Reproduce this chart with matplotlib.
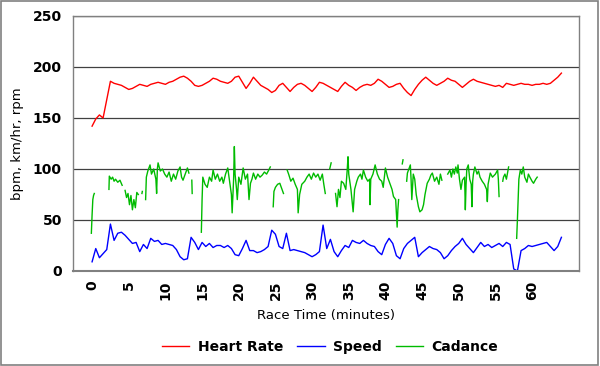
import numpy as np
import matplotlib
matplotlib.use('Agg')
import matplotlib.pyplot as plt
from matplotlib.patches import Rectangle

# Heart rate, one reading every half minute from 0 to 64
heart_rate = [
    142, 149, 153, 150, 168, 186, 184, 183, 182, 180,
    178, 179, 181, 183, 182, 181, 183, 184, 185, 184,
    183, 185, 186, 188, 190, 191, 189, 186, 182, 181,
    182, 184, 186, 189, 188, 186, 185, 184, 186, 190,
    191, 185, 179, 184, 190, 186, 182, 180, 178, 175,
    177, 182, 184, 180, 176, 180, 183, 184, 182, 179,
    176, 180, 185, 184, 182, 180, 178, 176, 181, 185,
    182, 180, 177, 180, 182, 183, 182, 184, 188, 186,
    183, 180, 181, 183, 184, 179, 175, 172, 178, 183,
    187, 190, 187, 184, 182, 184, 186, 189, 187, 186,
    183, 180, 183, 186, 188, 186, 185, 184, 183, 182,
    181, 182, 180, 184, 183, 182, 183, 184, 183, 183,
    182, 183, 183, 184, 183, 184, 187, 190, 194,
]

# Speed, one reading every half minute from 0 to 64
speed = [
    9, 22, 13, 17, 21, 46, 30, 37, 38, 35,
    31, 27, 28, 19, 26, 22, 32, 29, 30, 26,
    27, 26, 25, 21, 14, 11, 12, 33, 28, 21,
    28, 24, 27, 23, 25, 25, 23, 25, 22, 16,
    15, 22, 30, 20, 20, 18, 19, 21, 24, 40,
    36, 24, 22, 37, 20, 21, 20, 19, 18, 16,
    14, 16, 19, 45, 22, 31, 19, 14, 20, 25,
    23, 30, 28, 27, 30, 27, 25, 24, 19, 16,
    26, 32, 27, 15, 12, 22, 27, 30, 33, 14,
    18, 21, 24, 22, 21, 18, 12, 15, 20, 24,
    27, 32, 26, 22, 18, 23, 28, 24, 26, 23,
    25, 27, 24, 28, 26, 2, 0, 20, 22, 25,
    24, 25, 26, 27, 28, 24, 20, 24, 33,
]

nan = float('nan')

cad_time = [
    -0.1, 0.0, 0.1, 0.2, 0.3, 0.6,
    2.3, 2.35, 2.6, 2.8, 3.0, 3.2, 3.5, 3.8, 4.1, 4.3,
    4.5, 4.7, 4.9, 5.1, 5.3, 5.5, 5.7, 5.9, 6.1, 6.3, 6.5,
    6.8, 6.85, 7.0,
    7.3, 7.4, 7.6, 7.9, 8.1, 8.4, 8.7, 8.8, 8.9, 9.0, 9.3, 9.6, 9.9, 10.2,
    10.5, 10.8, 11.1, 11.4, 11.7, 12.0, 12.2, 12.4, 12.7, 13.0, 13.2, 13.4,
    13.6, 13.65, 13.8,
    14.9, 15.0, 15.1, 15.4, 15.7, 16.0, 16.3, 16.5, 16.8, 17.1, 17.4, 17.7,
    17.9, 18.2, 18.5, 18.8, 19.0, 19.1, 19.3, 19.4, 19.5, 19.7, 19.8, 20.0,
    20.3, 20.6, 20.9, 21.2, 21.4, 21.6, 21.8, 22.0, 22.3, 22.6, 22.9, 23.2,
    23.5, 23.8, 24.1, 24.3, 24.5,
    24.7, 24.8, 25.0, 25.3, 25.6, 25.9, 26.1, 26.3,
    26.6, 26.8, 27.1, 27.4, 27.7, 28.0, 28.1, 28.3, 28.6, 29.0, 29.3, 29.6,
    29.9, 30.2, 30.5, 30.8, 31.1, 31.4, 31.6, 31.8, 32.0,
    32.4, 32.6, 32.8,
    33.2, 33.4, 33.6, 33.8, 34.0, 34.3, 34.6, 34.8, 34.9, 35.0, 35.3, 35.6,
    35.8, 36.1, 36.3, 36.6, 36.8, 37.0, 37.3, 37.6, 37.85, 37.9, 38.0, 38.3,
    38.6, 38.9, 39.2, 39.5, 39.7, 40.0, 40.3, 40.6, 40.9, 41.1, 41.4, 41.6,
    41.7, 41.8, 42.0,
    42.3, 42.4, 42.6,
    42.9, 43.0, 43.2, 43.4, 43.5, 43.6, 43.8, 44.0, 44.2, 44.5, 44.7, 45.0,
    45.2, 45.4, 45.7, 46.0, 46.2, 46.4, 46.7, 47.0, 47.3, 47.5, 47.7, 48.0,
    48.5, 48.8, 49.0, 49.2, 49.4, 49.6, 49.8, 49.9, 50.1, 50.3, 50.5, 50.8,
    50.9, 51.0, 51.1, 51.3, 51.5, 51.7, 51.8, 51.9, 52.0, 52.2, 52.5, 52.7,
    52.9, 53.2, 53.5, 53.8, 53.9, 54.0, 54.3, 54.6, 55.0, 55.3, 55.4, 55.5,
    55.6,
    56.0, 56.1, 56.3, 56.5, 56.8, 57.0,
    57.9, 58.0, 58.2, 58.4, 58.6, 58.8, 59.0, 59.3, 59.5, 59.7, 60.0, 60.2,
    60.5, 60.7,
]
cadence = [
    37, 55, 70, 74, 76, nan,
    80, 93, 90, 92, 88, 90, 87, 89, 84, nan,
    79, 72, 76, 65, 74, 60, 70, 62, 77, 75, nan,
    76, 78, nan,
    70, 92, 98, 104, 95, 100, 90, 76, 100, 106, 98, 100, 95, 92,
    97, 88, 95, 90, 98, 102, 92, 89, 95, 101, 96, nan,
    89, 76, nan,
    38, 70, 92, 85, 82, 92, 88, 99, 90, 95, 88, 92,
    86, 95, 101, 85, 75, 57, 90, 122, 95, 80, 70, 92,
    85, 101, 90, 95, 70, 86, 90, 96, 90, 95, 92, 94,
    97, 95, 99, 102, nan,
    63, 78, 82, 85, 86, 80, 76, nan,
    99, 95, 88, 91, 85, 80, 57, 75, 85, 88, 92, 95,
    90, 96, 92, 95, 89, 95, 85, 76, nan,
    100, 106, nan,
    76, 63, 80, 72, 88, 86, 80, 100, 112, 95, 80, 58,
    80, 88, 92, 95, 90, 99, 92, 88, 90, 65, 90, 95,
    104, 95, 90, 88, 82, 101, 92, 86, 80, 73, 70, 43,
    60, 70, nan,
    105, 109, nan,
    88, 96, 100, 104, 90, 70, 95, 90, 75, 63, 58, 60,
    65, 75, 86, 90, 94, 96, 88, 92, 85, 95, 89, nan,
    95, 99, 92, 100, 95, 102, 96, 104, 90, 80, 89, 92,
    60, 85, 100, 104, 90, 85, 63, 88, 95, 102, 95, 98,
    92, 88, 85, 80, 68, 85, 96, 92, 95, 99, 90, 73,
    nan,
    88, 92, 95, 90, 102, nan,
    32, 50, 90, 99, 95, 102, 92, 87, 95, 92, 88, 86,
    90, 92,
]

x_ticks = list(range(0, 65, 5))
y_ticks = [0, 50, 100, 150, 200, 250]

t_half = np.arange(len(heart_rate)) * 0.5
t_speed = np.arange(len(speed)) * 0.5

fig = plt.figure(figsize=(6, 3.66), dpi=100)
ax = fig.add_axes([0.1217, 0.2596, 0.8433, 0.6967])

ax.plot(t_half, heart_rate, color='#ff0000', lw=1.0, label='Heart Rate')
ax.plot(t_speed, speed, color='#0000ff', lw=1.0, label='Speed')
ax.plot(cad_time, cadence, color='#00bb00', lw=1.0, label='Cadance')

ax.set_xlim(-2.6, 66.4)
ax.set_ylim(0, 250)
ax.set_xticks(x_ticks)
ax.set_yticks(y_ticks)
ax.set_xticklabels([str(v) for v in x_ticks], rotation=90, fontweight='bold', fontsize=10)
ax.set_yticklabels([str(v) for v in y_ticks], fontweight='bold', fontsize=10)
ax.tick_params(axis='both', length=0)
ax.tick_params(axis='y', pad=8)
ax.tick_params(axis='x', pad=7)
ax.yaxis.grid(True, color='#404040', lw=0.9)
ax.set_axisbelow(True)
for side in ['left', 'right', 'top', 'bottom']:
    ax.spines[side].set_color('#808080')
    ax.spines[side].set_linewidth(1.0)
ax.spines['bottom'].set_linewidth(1.5)

ax.set_ylabel('bpm, km/hr, rpm', fontsize=9.5, labelpad=6)
ax.set_xlabel('Race Time (minutes)', fontsize=9.5, labelpad=6)

fig.legend(loc='center', bbox_to_anchor=(0.55, 0.052), ncol=3, frameon=False,
           prop={'weight': 'bold', 'size': 10}, handlelength=2.0,
           columnspacing=1.0, handletextpad=0.6)

# thin border round the whole picture
fig.patches.append(Rectangle((0.002, 0.003), 0.995, 0.994, transform=fig.transFigure,
                             fill=False, edgecolor='#808080', lw=1.2))

fig.savefig('out.png', dpi=100)
